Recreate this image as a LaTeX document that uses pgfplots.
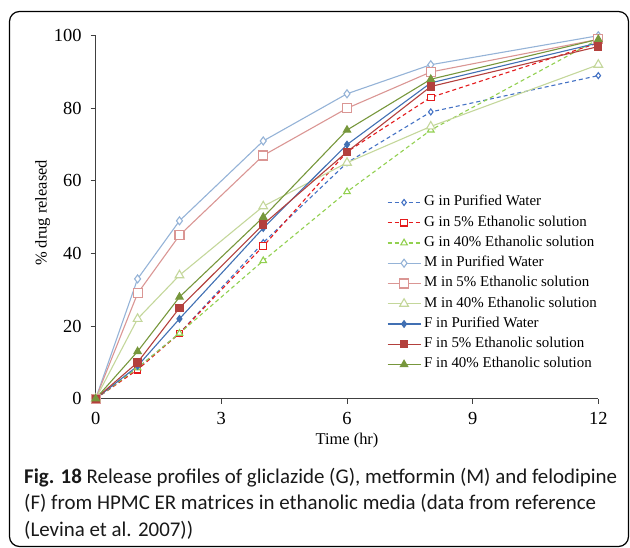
\documentclass[border=0pt]{standalone}
\usepackage{pgfplots}
\pgfplotsset{compat=1.18}
\usepackage{fontspec}
\setmainfont{Liberation Serif}
\newfontfamily\capfont{Carlito}
\usetikzlibrary{plotmarks}

% release profiles (% drug released vs time in hours)
\pgfplotstableread{
t   GPW  G5  G40  MPW  M5  M40  FPW  F5  F40
0   0    0   0    0    0   0    0    0   0
1   8.5  8   8.5  33   29  22   9    10  13
2   18   18  18   49   45  34   22   25  28
4   43   42  38   71   67  53   47   48  50
6   65   68  57   84   80  65   70   68  74
8   79   83  74   92   90  75   87   86  88
12  89   98  99   100  99  92   98   97  99
}\release

\definecolor{gpw}{HTML}{4472C4}
\definecolor{gfive}{HTML}{E41A1C}
\definecolor{gforty}{HTML}{92D050}
\definecolor{mpw}{HTML}{95B3D7}
\definecolor{mfive}{HTML}{DA9694}
\definecolor{mforty}{HTML}{C4D79B}
\definecolor{fpw}{HTML}{4170B3}
\definecolor{ffive}{HTML}{B3403D}
\definecolor{fforty}{HTML}{77973C}
\definecolor{axisgray}{HTML}{404040}

\begin{document}
\begin{tikzpicture}[x=1bp,y=1bp]
\path[use as bounding box] (0,0) rectangle (630,548);
\draw[line width=1.2bp, rounded corners=10bp] (9.5,1.5) rectangle (628.5,536.5);

\begin{axis}[
  at={(95.7bp,149.3bp)}, anchor=origin,
  scale only axis, width=502.6bp, height=363bp,
  xmin=0, xmax=12, ymin=0, ymax=100,
  xtick={0,3,6,9,12}, ytick={0,20,...,100},
  axis lines*=left,
  axis line style={axisgray, line width=0.9bp},
  every tick/.style={axisgray, line width=0.9bp},
  tick align=outside, major tick length=5bp,
  clip=false,
  /pgf/number format/assume math mode=true,
  tick label style={font=\fontsize{18.5}{18.5}\selectfont, inner sep=0pt},
  yticklabel style={xshift=-9bp},
  xticklabel style={yshift=-8.5bp},
  xlabel={Time (hr)}, ylabel={\% drug released},
  every axis x label/.style={at={(axis description cs:0.5,-0.1143)}, anchor=center,
    font=\fontsize{16.5}{16.5}\selectfont},
  every axis y label/.style={at={(axis description cs:-0.1055,0.5116)}, rotate=90, anchor=center,
    font=\fontsize{16.5}{16.5}\selectfont},
  legend style={at={(rel axis cs:0.5796,0.5598)}, anchor=north west,
    draw=none, fill=none, inner sep=0pt, outer sep=0pt,
    font=\fontsize{15}{15}\selectfont, row sep=6.25bp,
    nodes={inner sep=0pt, text height=10.5bp, text depth=3.5bp}},
  /tikz/every odd column/.append style={column sep=3bp},
  legend cell align=left,
  legend image code/.code={\draw[mark repeat=2,mark phase=2,#1] plot coordinates {(0bp,0bp) (16.5bp,0bp) (33bp,0bp)};},
  every axis plot/.append style={line width=1.1bp},
  gdash/.style={dash pattern=on 4bp off 3bp},
]
\addplot[gpw, gdash, mark=diamond*, mark size=3bp, mark options={solid, fill=white}] table[x=t,y=GPW] {\release};
\addlegendentry{G in Purified Water}
\addplot[gfive, gdash, mark=square*, mark size=3.3bp, mark options={solid, fill=white}] table[x=t,y=G5] {\release};
\addlegendentry{G in 5\% Ethanolic solution}
\addplot[gforty, gdash, mark=triangle*, mark size=3.8bp, mark options={solid, fill=white}] table[x=t,y=G40] {\release};
\addlegendentry{G in 40\% Ethanolic solution}
\addplot[mpw, mark=diamond*, mark size=4bp, mark options={fill=white}] table[x=t,y=MPW] {\release};
\addlegendentry{M in Purified Water}
\addplot[mfive, mark=square*, mark size=4.5bp, mark options={fill=white}] table[x=t,y=M5] {\release};
\addlegendentry{M in 5\% Ethanolic solution}
\addplot[mforty, mark=triangle*, mark size=5bp, mark options={fill=white}] table[x=t,y=M40] {\release};
\addlegendentry{M in 40\% Ethanolic solution}
\addplot[fpw, mark=diamond*, mark size=3.3bp, mark options={fill=fpw}] table[x=t,y=FPW] {\release};
\addlegendentry{F in Purified Water}
\addplot[ffive, mark=square*, mark size=3.6bp, mark options={fill=ffive}] table[x=t,y=F5] {\release};
\addlegendentry{F in 5\% Ethanolic solution}
\addplot[fforty, mark=triangle*, mark size=4.2bp, mark options={fill=fforty}] table[x=t,y=F40] {\release};
\addlegendentry{F in 40\% Ethanolic solution}
\end{axis}

\begin{scope}[every node/.style={anchor=base west, inner sep=0pt, font=\capfont\fontsize{21}{27}\selectfont, text=black!90}]
\node at (24,64.7) {\textbf{Fig. 18} Release profiles of gliclazide (G), metformin (M) and felodipine};
\node at (24,38) {(F) from HPMC ER matrices in ethanolic media (data from reference};
\node at (24,11.3) {(Levina et al. 2007))};
\end{scope}
\end{tikzpicture}
\end{document}
